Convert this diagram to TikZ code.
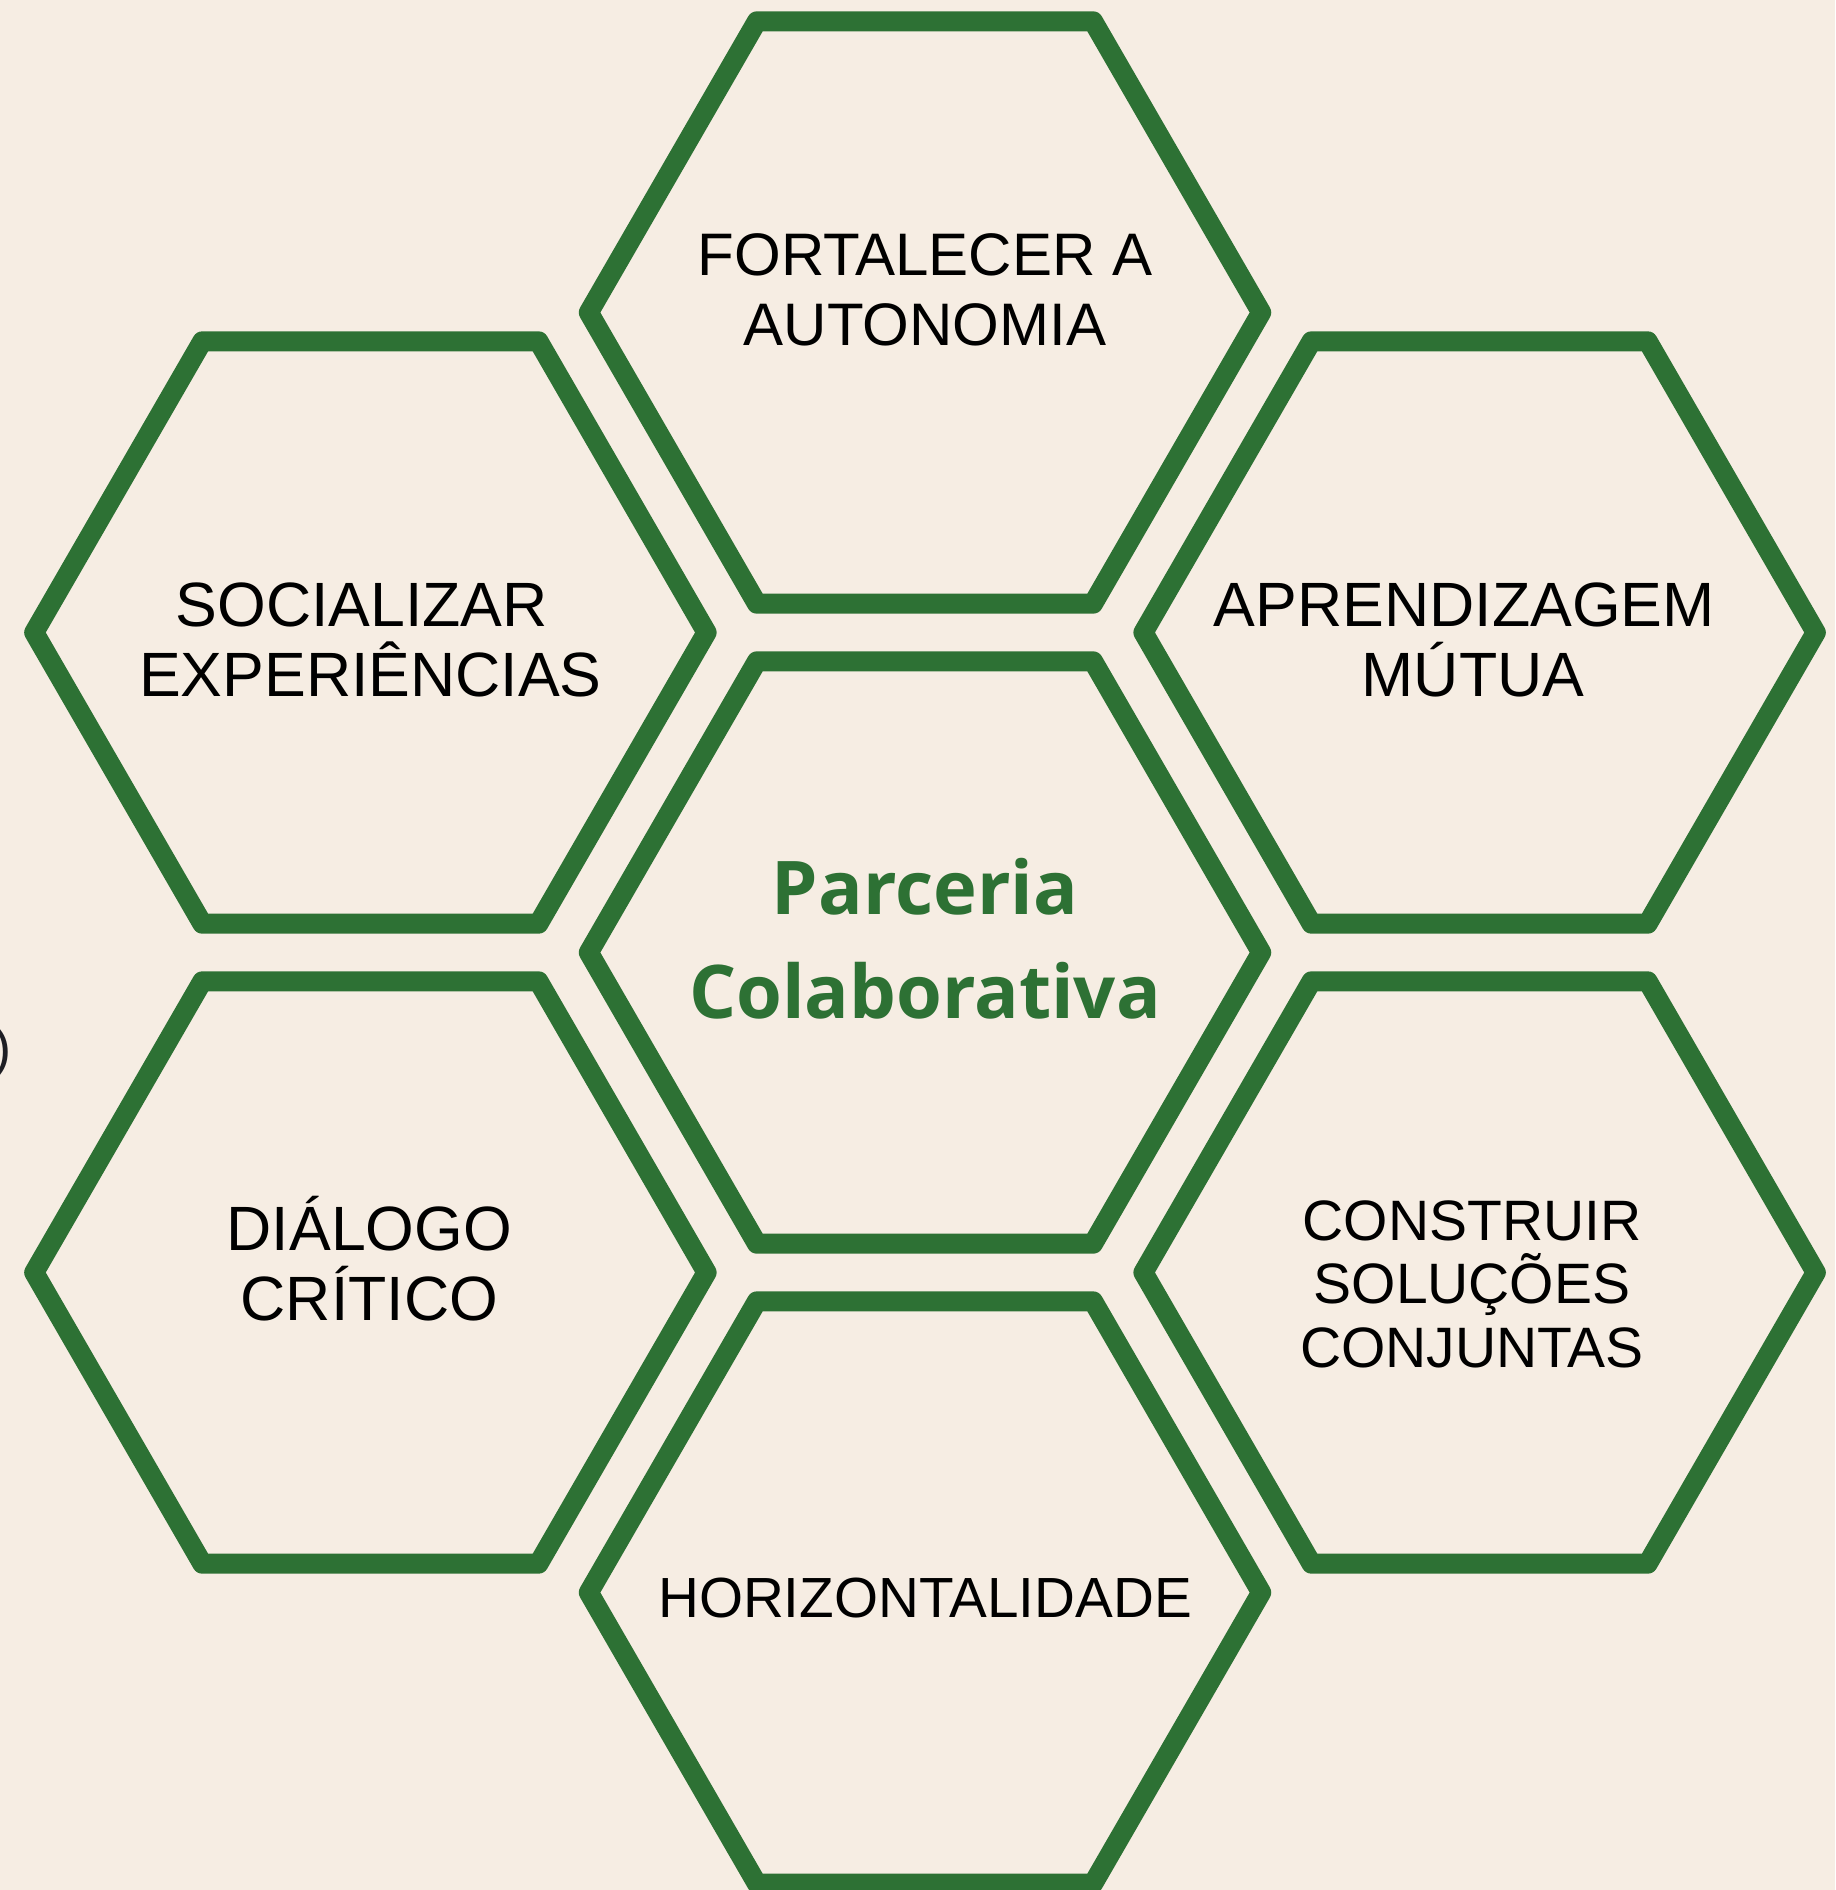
\documentclass[tikz,border=0pt]{standalone}
\usepackage{fontspec}
\setmainfont{Liberation Sans}
\newfontfamily\opensans{Open Sans}
\usetikzlibrary{shapes, positioning, calc}
\definecolor{green1}{RGB}{45, 113, 52}
\definecolor{beige1}{RGB}{246, 237, 227}
\definecolor{dark1}{RGB}{30, 30, 36}

\begin{document}
\begin{tikzpicture}[x=0.01cm, y=-0.01cm,
  hexcell/.style={draw=green1, line width=0.2cm, line join=round, regular polygon, regular polygon sides=6, minimum size=6.72cm, inner sep=0pt, outer sep=0pt},
  hextext/.style={align=center, inner sep=0pt, font=\fontsize{17.07}{19.92}\selectfont},
  hextextbig/.style={hextext, font=\fontsize{17.8}{19.92}\selectfont}
  ]
  \fill[beige1] (0,0) rectangle (1835,1890);
  \useasboundingbox (0,0) rectangle (1835,1890);

  % honeycomb
  \node[hexcell] (hexcenter) at (925,952.5) {};
  \node[hexcell] (hextop) at (925,312.5) {};
  \node[hexcell] (hexbottom) at (925,1592.5) {};
  \node[hexcell] (hexupleft) at (370.4,632.5) {};
  \node[hexcell] (hexlowleft) at (370.4,1272.5) {};
  \node[hexcell] (hexupright) at (1479.6,632.5) {};
  \node[hexcell] (hexlowright) at (1479.6,1272.5) {};

  % labels
  \node[align=center, inner sep=0pt, text=green1, font=\opensans\bfseries\fontsize{21.06}{29.6}\selectfont] (parceria) at ($(hexcenter)+(0,-13.5)$) {Parceria\\Colaborativa};
  \node[hextext] (autonomia) at ($(hextop)+(0,-22.5)$) {FORTALECER A\\AUTONOMIA};
  \node[hextextbig] (experiencias) at ($(hexupleft)+(0,7)$) {SOCIALIZAR\hphantom{\ }\\EXPERIÊNCIAS};
  \node[hextextbig] (mutua) at ($(hexupright)+(-6.6,7.5)$) {APRENDIZAGEM\hphantom{\ }\\MÚTUA};
  \node[hextextbig] (dialogo) at ($(hexlowleft)+(-1,-13.5)$) {DIÁLOGO\\CRÍTICO};
  \node[hextext, font=\fontsize{16.2}{18.07}\selectfont] (solucoes) at ($(hexlowright)+(-7.6,11.5)$) {CONSTRUIR\\SOLUÇÕES\\CONJUNTAS};
  \node[hextext, font=\fontsize{16.1}{18.07}\selectfont] (horizontal) at ($(hexbottom)+(0,5)$) {HORIZONTALIDADE};

  % cut-off glyph at the left edge
  \node[anchor=base east, inner sep=0pt, text=dark1, font=\fontsize{15.4}{18}\selectfont] (paren) at (12,1066.5) {)};
\end{tikzpicture}
\end{document}
